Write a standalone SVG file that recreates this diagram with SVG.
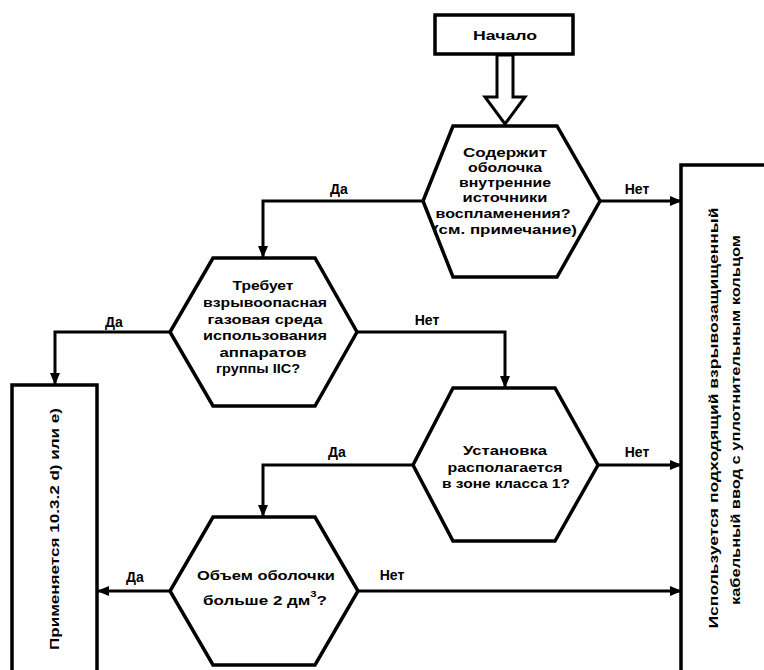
<svg xmlns="http://www.w3.org/2000/svg" width="764" height="670" viewBox="0 0 764 670">
<defs>
<style>
.box{fill:#fff;stroke:#000;stroke-width:3.5}
.line{fill:none;stroke:#000;stroke-width:3}
.t{font-family:"Liberation Sans",Arial,sans-serif;font-weight:bold;font-size:13.5px;fill:#000;text-anchor:middle}
.lbl{font-family:"Liberation Sans",Arial,sans-serif;font-weight:bold;font-size:14px;fill:#000;text-anchor:middle}
</style>
<marker id="ah" markerUnits="userSpaceOnUse" markerWidth="12" markerHeight="10" refX="11" refY="5" orient="auto">
<path d="M0,0 L12,5 L0,10 Z" fill="#000"/>
</marker>
</defs>
<rect width="764" height="670" fill="#fff"/>

<g id="connectors">
<polygon points="497,55 497,97 485,97 505,124 525,97 513,97 513,55" fill="#fff" stroke="#000" stroke-width="3"/>
<polyline class="line" points="423,201 263,201 263,257" marker-end="url(#ah)"/>
<polyline class="line" points="600,201 681,201" marker-end="url(#ah)"/>
<polyline class="line" points="170,332 55,332 55,384" marker-end="url(#ah)"/>
<polyline class="line" points="357,332 505,332 505,387" marker-end="url(#ah)"/>
<polyline class="line" points="413,465 263,465 263,516" marker-end="url(#ah)"/>
<polyline class="line" points="598,465 681,465" marker-end="url(#ah)"/>
<polyline class="line" points="170,591 98,591" marker-end="url(#ah)"/>
<polyline class="line" points="358,591 681,591" marker-end="url(#ah)"/>
<text class="lbl" x="339" y="194">Да</text>
<text class="lbl" x="637" y="194">Нет</text>
<text class="lbl" x="114" y="327">Да</text>
<text class="lbl" x="427" y="325">Нет</text>
<text class="lbl" x="337" y="457">Да</text>
<text class="lbl" x="637" y="457">Нет</text>
<text class="lbl" x="135" y="582">Да</text>
<text class="lbl" x="392" y="580">Нет</text>
</g>

<g id="start">
<rect class="box" x="435" y="15" width="138" height="39"/>
<text class="t" x="505" y="40" textLength="64" lengthAdjust="spacingAndGlyphs">Начало</text>
</g>

<g id="q1">
<polygon class="box" points="453,126 557,126 600,201 557,277 453,277 423,201"/>
<text class="t" x="505" y="157" textLength="84" lengthAdjust="spacingAndGlyphs">Содержит</text>
<text class="t" x="505" y="172" textLength="74" lengthAdjust="spacingAndGlyphs">оболочка</text>
<text class="t" x="505" y="187" textLength="92" lengthAdjust="spacingAndGlyphs">внутренние</text>
<text class="t" x="505" y="202" textLength="85" lengthAdjust="spacingAndGlyphs">источники</text>
<text class="t" x="503" y="218" textLength="135" lengthAdjust="spacingAndGlyphs">воспламенения?</text>
<text class="t" x="505" y="234" textLength="144" lengthAdjust="spacingAndGlyphs">(см. примечание)</text>
</g>

<g id="q2">
<polygon class="box" points="213,258 315,258 357,332 315,406 213,406 170,332"/>
<text class="t" x="263" y="290" textLength="61" lengthAdjust="spacingAndGlyphs">Требует</text>
<text class="t" x="265" y="307" textLength="124" lengthAdjust="spacingAndGlyphs">взрывоопасная</text>
<text class="t" x="265" y="324" textLength="115" lengthAdjust="spacingAndGlyphs">газовая среда</text>
<text class="t" x="265" y="340" textLength="124" lengthAdjust="spacingAndGlyphs">использования</text>
<text class="t" x="263" y="357" textLength="87" lengthAdjust="spacingAndGlyphs">аппаратов</text>
<text class="t" x="258" y="373" textLength="84" lengthAdjust="spacingAndGlyphs">группы IIC?</text>
</g>

<g id="q3">
<polygon class="box" points="453,388 555,388 598,465 555,541 453,541 413,465"/>
<text class="t" x="505" y="455" textLength="84" lengthAdjust="spacingAndGlyphs">Установка</text>
<text class="t" x="505" y="472" textLength="115" lengthAdjust="spacingAndGlyphs">располагается</text>
<text class="t" x="506" y="488" textLength="128" lengthAdjust="spacingAndGlyphs">в зоне класса 1?</text>
</g>

<g id="q4">
<polygon class="box" points="213,517 315,517 358,591 315,665 213,665 170,591"/>
<text class="t" x="266" y="580" textLength="138" lengthAdjust="spacingAndGlyphs">Объем оболочки</text>
<text class="t" x="265" y="605" textLength="124" lengthAdjust="spacingAndGlyphs">больше 2 дм<tspan font-size="9" dy="-8">3</tspan><tspan dy="8">?</tspan></text>
</g>

<g id="result-left">
<rect class="box" x="12" y="385" width="85" height="300"/>
<text class="t" transform="translate(59,529) rotate(-90)" textLength="242" lengthAdjust="spacingAndGlyphs">Применяется 10.3.2 d) или e)</text>
</g>

<g id="result-right">
<rect class="box" x="681" y="165" width="100" height="520"/>
<text class="t" transform="translate(718,418) rotate(-90)" textLength="421" lengthAdjust="spacingAndGlyphs">Используется подходящий взрывозащищенный</text>
<text class="t" transform="translate(740,420) rotate(-90)" textLength="370" lengthAdjust="spacingAndGlyphs">кабельный ввод с уплотнительным кольцом</text>
</g>
</svg>
